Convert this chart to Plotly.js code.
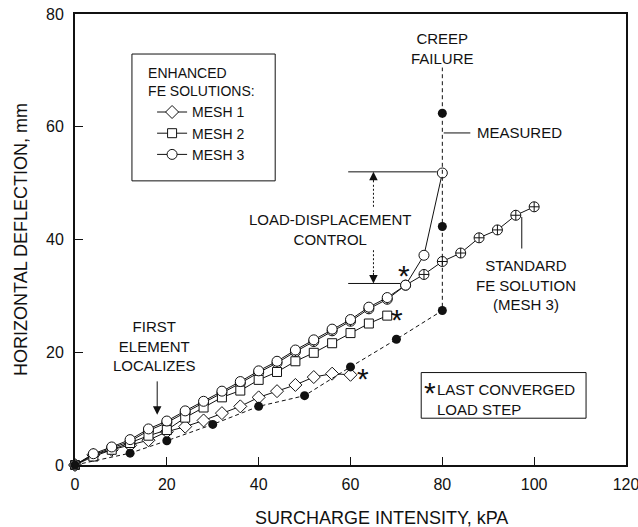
<!DOCTYPE html>
<html>
<head>
<meta charset="utf-8">
<script src="https://cdn.plot.ly/plotly-3.0.1.min.js"></script>
<style>
  html, body { margin: 0; padding: 0; background: #fff; }
  #chart { width: 638px; height: 527px; }
</style>
</head>
<body>
<div id="chart"></div>
<script>
// Surcharge intensity (kPA) and horizontal deflection (mm) per solution
const mesh1X = [0, 4, 8, 12, 16, 20, 24, 28, 32, 36, 40, 44, 48, 52, 56, 60];
const mesh1Y = [0, 1.8, 2.7, 3.5, 4.4, 5.9, 6.8, 7.9, 9.2, 10.4, 12.0, 13.1, 14.2, 15.6, 16.2, 16.0];

const mesh2X = [0, 4, 8, 12, 16, 20, 24, 28, 32, 36, 40, 44, 48, 52, 56, 60, 64, 68];
const mesh2Y = [0, 1.5, 2.7, 3.9, 5.2, 6.2, 8.4, 10.2, 12.0, 13.2, 15.1, 16.5, 18.4, 19.9, 21.6, 23.4, 25.1, 26.5];

const mesh3X = [0, 4, 8, 12, 16, 20, 24, 28, 32, 36, 40, 44, 48, 52, 56, 60, 64, 68, 72, 76, 80];
const mesh3Y = [0, 2.0, 3.2, 4.5, 6.4, 7.8, 9.6, 11.3, 13.1, 14.8, 16.7, 18.4, 20.4, 22.2, 24.1, 25.8, 28.0, 29.7, 31.9, 37.2, 51.8];

const standardX = [0, 4, 8, 12, 16, 20, 24, 28, 32, 36, 40, 44, 48, 52, 56, 60, 64, 68, 72, 76, 80, 84, 88, 92, 96, 100];
const standardY = [0, 1.8, 3.0, 4.2, 6.1, 7.5, 9.3, 11.0, 12.8, 14.5, 16.4, 18.1, 20.1, 21.9, 23.8, 25.5, 27.7, 29.4, 31.9, 33.8, 36.1, 37.6, 40.3, 41.7, 44.3, 45.8];

const measuredX = [0, 12, 20, 30, 40, 50, 60, 70, 80, 80, 80];
const measuredY = [0, 2.1, 4.3, 7.2, 10.4, 12.3, 17.4, 22.3, 27.4, 42.3, 62.4];

const xTicks = [0, 20, 40, 60, 80, 100, 120];
const yTicks = [0, 20, 40, 60, 80];

const FONT = 'Liberation Sans, Arial, Helvetica, sans-serif';
const INK = '#111';

// load step at which each enhanced solution last converged
const lastConverged = [
  { x: mesh1X[mesh1X.length - 1], y: mesh1Y[mesh1Y.length - 1], dx: 12, dy: 0 },
  { x: mesh2X[mesh2X.length - 1], y: mesh2Y[mesh2Y.length - 1], dx: 10, dy: 0 },
  { x: mesh3X[18], y: mesh3Y[18], dx: -2, dy: 14 }
];

const failureTop = 70.5;

const traces = [
  {
    x: standardX, y: standardY, mode: 'lines+markers', showlegend: false,
    name: 'STANDARD FE SOLUTION (MESH 3)', cliponaxis: false,
    line: { color: INK, width: 1 },
    marker: { symbol: 'circle-cross', size: 10, color: '#fff', line: { color: INK, width: 1 } }
  },
  {
    x: mesh1X, y: mesh1Y, mode: 'lines+markers', name: 'MESH 1', cliponaxis: false,
    line: { color: INK, width: 1 },
    marker: { symbol: 'diamond', size: 10, color: '#fff', line: { color: INK, width: 1 } }
  },
  {
    x: mesh2X, y: mesh2Y, mode: 'lines+markers', name: 'MESH 2', cliponaxis: false,
    line: { color: INK, width: 1 },
    marker: { symbol: 'square', size: 9, color: '#fff', line: { color: INK, width: 1 } }
  },
  {
    x: mesh3X, y: mesh3Y, mode: 'lines+markers', name: 'MESH 3', cliponaxis: false,
    line: { color: INK, width: 1 },
    marker: { symbol: 'circle', size: 10, color: '#fff', line: { color: INK, width: 1 } }
  },
  {
    x: measuredX, y: measuredY, mode: 'lines+markers', name: 'MEASURED', showlegend: false,
    cliponaxis: false,
    line: { color: INK, width: 1, dash: '4px,3px' },
    marker: { symbol: 'circle', size: 9, color: INK }
  }
];

const txt = (size) => ({ family: FONT, size: size, color: INK });

const annotations = [
  { x: 80, y: 73.8, text: 'CREEP<br>FAILURE', showarrow: false, font: txt(15), xanchor: 'center', yanchor: 'middle' },
  { x: 87.2, y: 58.9, text: 'MEASURED', showarrow: false, font: txt(15), xanchor: 'left', yanchor: 'middle' },
  { x: 55.6, y: 41.7, text: 'LOAD-DISPLACEMENT<br>CONTROL', showarrow: false, font: txt(15), xanchor: 'center', yanchor: 'middle' },
  { x: 17.4, y: 21.1, text: 'FIRST<br>ELEMENT<br>LOCALIZES', showarrow: false, font: txt(15), xanchor: 'center', yanchor: 'middle' },
  { x: 98.2, y: 31.9, text: 'STANDARD<br>FE SOLUTION<br>(MESH 3)', showarrow: false, font: txt(15), xanchor: 'center', yanchor: 'middle' },
  { x: 78.4, y: 11.7, text: 'LAST CONVERGED<br>LOAD STEP', showarrow: false, font: txt(15), xanchor: 'left', yanchor: 'middle', align: 'left' },
  { x: 77.3, y: 13.6, text: '*', showarrow: false, font: txt(30), xanchor: 'center', yanchor: 'middle', yshift: -4 },
  // first element localizes arrow
  { x: 17.9, y: 8.9, ax: 17.9, ay: 15.1, axref: 'x', ayref: 'y', text: '', showarrow: true,
    arrowhead: 2, arrowsize: 1.7, arrowwidth: 1, arrowcolor: INK },
  // load-displacement control arrowheads
  { x: 65, y: 52.0, ax: 0, ay: 12, text: '', showarrow: true, arrowhead: 2, arrowsize: 1.7, arrowwidth: 1, arrowcolor: INK },
  { x: 65, y: 32.2, ax: 0, ay: -12, text: '', showarrow: true, arrowhead: 2, arrowsize: 1.7, arrowwidth: 1, arrowcolor: INK },
  // x axis title
  { xref: 'paper', yref: 'paper', x: 0.556, y: -0.1175, text: 'SURCHARGE INTENSITY, kPA', showarrow: false,
    font: txt(18), xanchor: 'center', yanchor: 'middle' }
];

lastConverged.forEach(p => {
  annotations.push({ x: p.x, y: p.y, text: '*', showarrow: false, font: txt(30),
    xanchor: 'center', yanchor: 'middle', xshift: p.dx, yshift: p.dy - 4 });
});

const seg = (x0, y0, x1, y1, dash) => ({
  type: 'line', xref: 'x', yref: 'y', x0: x0, y0: y0, x1: x1, y1: y1,
  line: { color: INK, width: 1, dash: dash || 'solid' }
});

const shapes = [
  seg(80, measuredY[measuredY.length - 1], 80, failureTop, '4px,3px'),
  seg(80.3, 58.9, 86.1, 58.9),
  seg(59.5, 52.0, 78.8, 52.0),
  seg(59.5, 32.2, 70.8, 32.2),
  seg(65, 45.8, 65, 50.0, '2px,2px'),
  seg(65, 38.1, 65, 34.2, '2px,2px'),
  seg(97.3, 44.0, 97.3, 38.4),
  { type: 'rect', xref: 'x', yref: 'y', x0: 12.4, x1: 43.6, y0: 50.4, y1: 72.9,
    line: { color: INK, width: 1 }, fillcolor: 'rgba(0,0,0,0)', layer: 'below' },
  { type: 'rect', xref: 'x', yref: 'y', x0: 75.4, x1: 111.3, y0: 8.3, y1: 16.4,
    line: { color: INK, width: 1 }, fillcolor: '#fff', layer: 'above' }
];

const axisCommon = {
  showgrid: false, zeroline: false, showline: true, mirror: true,
  linecolor: INK, linewidth: 2, ticks: 'inside', ticklen: 8, tickwidth: 1, tickcolor: INK,
  tickfont: txt(16), fixedrange: true, ticklabeloverflow: 'allow'
};

const layout = {
  width: 638, height: 527,
  margin: { l: 75, r: 12, t: 14, b: 62, pad: 0 },
  paper_bgcolor: '#fff', plot_bgcolor: '#fff',
  font: txt(15),
  showlegend: true,
  legend: {
    x: 0.129, y: 0.898, xanchor: 'left', yanchor: 'top',
    bgcolor: 'rgba(0,0,0,0)', borderwidth: 0,
    font: txt(14), indentation: 6,
    title: { text: 'ENHANCED<br>FE SOLUTIONS:', font: txt(14), side: 'top' }
  },
  xaxis: Object.assign({}, axisCommon, {
    range: [0, 120], tickvals: xTicks, ticktext: xTicks.map(String), ticklabelstandoff: 4
  }),
  yaxis: Object.assign({}, axisCommon, {
    range: [0, 80], tickvals: yTicks, ticktext: yTicks.map(String), ticklabelstandoff: 6,
    title: { text: 'HORIZONTAL DEFLECTION, mm', font: txt(18), standoff: 14 }
  }),
  annotations: annotations,
  shapes: shapes
};

Plotly.newPlot('chart', traces, layout, { staticPlot: true, displayModeBar: false });
</script>
</body>
</html>
